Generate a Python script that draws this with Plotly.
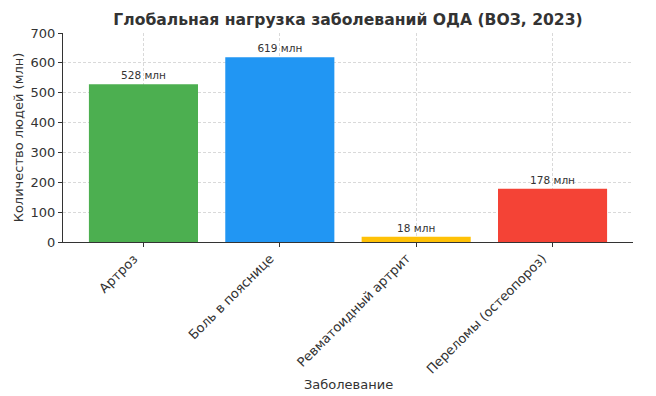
import plotly.graph_objects as go

categories = ["Артроз", "Боль в пояснице", "Ревматоидный артрит", "Переломы (остеопороз)"]
values = [528, 619, 18, 178]
labels = ["528 млн", "619 млн", "18 млн", "178 млн"]
colors = ["#4CAF50", "#2196F3", "#FFC107", "#F44336"]

x = list(range(len(categories)))

fig = go.Figure()
fig.add_trace(go.Bar(
    x=x, y=values, width=0.8,
    marker=dict(color=colors, line=dict(width=0)),
    text=labels, textposition="outside", cliponaxis=False,
    textfont=dict(size=10.5, color="#333333", family="DejaVu Sans"),
))

# rotated category labels, right-top corner anchored at each tick (like ha='right')
for xi, cat in zip(x, categories):
    fig.add_annotation(x=xi, y=0, xref="x", yref="paper", text=cat,
                       textangle=-45, xanchor="right", yanchor="top",
                       yshift=-6, showarrow=False,
                       font=dict(size=13, color="#333333"))

fig.add_annotation(x=0.5, y=(242 - 384) / 209, xref="paper", yref="paper",
                   text="Заболевание", showarrow=False,
                   xanchor="center", yanchor="middle",
                   font=dict(size=13, color="#333333"))

fig.update_layout(
    width=656, height=396,
    margin=dict(l=63, r=23, t=33, b=154),
    paper_bgcolor="white", plot_bgcolor="white",
    font=dict(family="DejaVu Sans", size=12, color="#333333"),
    title=dict(text="<b>Глобальная нагрузка заболеваний ОДА (ВОЗ, 2023)</b>",
               x=348 / 656, xanchor="center", y=1 - 20 / 396, yanchor="middle",
               font=dict(size=15.6, color="#333333")),
    showlegend=False,
)
fig.update_xaxes(
    tickmode="array", tickvals=x, showticklabels=False,
    range=[-0.59, 3.59], automargin=False,
    showline=True, linecolor="#333333", linewidth=1,
    ticks="outside", ticklen=4, tickcolor="#333333",
    showgrid=True, gridcolor="#d9d9d9", griddash="3px,2px", gridwidth=0.8,
    layer="above traces",
)
fig.update_yaxes(
    range=[0, 700], tickvals=[0, 100, 200, 300, 400, 500, 600, 700],
    automargin=False,
    showline=True, linecolor="#333333", linewidth=1,
    ticks="outside", ticklen=4, tickcolor="#333333",
    showgrid=True, gridcolor="#d9d9d9", griddash="3px,2px", gridwidth=0.8,
    zeroline=False, layer="above traces",
    title=dict(text="Количество людей (млн)", font=dict(size=13), standoff=4),
    tickfont=dict(size=13),
)

fig.write_html("out.html", config={"displayModeBar": False},
               post_script="document.body.style.margin='0';")
